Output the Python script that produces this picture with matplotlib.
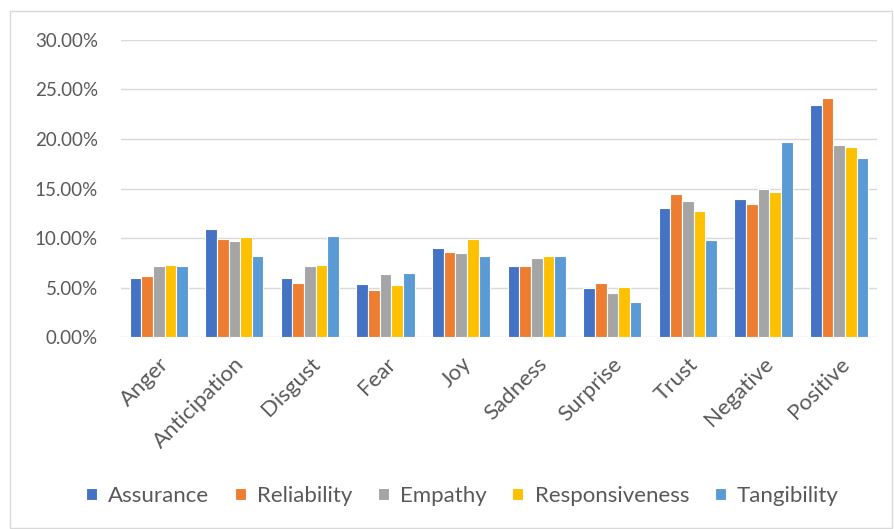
import matplotlib

matplotlib.use("Agg")
import matplotlib.pyplot as plt
import numpy as np
from matplotlib.patches import Rectangle
from matplotlib.ticker import PercentFormatter

categories = ["Anger", "Anticipation", "Disgust", "Fear", "Joy", "Sadness",
              "Surprise", "Trust", "Negative", "Positive"]
series_names = ["Assurance", "Reliability", "Empathy", "Responsiveness", "Tangibility"]

assurance = [6.0, 10.9, 6.0, 5.4, 9.0, 7.2, 5.0, 13.0, 13.9, 23.4]
reliability = [6.2, 9.9, 5.5, 4.8, 8.6, 7.2, 5.5, 14.4, 13.4, 24.1]
empathy = [7.2, 9.7, 7.2, 6.4, 8.5, 8.0, 4.4, 13.7, 14.9, 19.4]
responsiveness = [7.3, 10.1, 7.3, 5.3, 9.9, 8.2, 5.1, 12.7, 14.6, 19.2]
tangibility = [7.2, 8.2, 10.2, 6.5, 8.2, 8.2, 3.5, 9.8, 19.7, 18.1]

colors = ["#4472C4", "#ED7D31", "#A5A5A5", "#FFC000", "#5B9BD5"]

plt.rcParams["font.family"] = ["Lato", "DejaVu Sans"]
text_color = "#595959"

fig = plt.figure(figsize=(8.94, 5.29), dpi=100)
ax = fig.add_axes([0.1353, 0.3629, 0.8456, 0.5615])

x = np.arange(len(categories))
all_series = [assurance, reliability, empathy, responsiveness, tangibility]
step = 0.154
for i, (name, vals, col) in enumerate(zip(series_names, all_series, colors)):
    ax.bar(x + (i - 2) * step, np.array(vals) / 100, width=step,
           color=col, edgecolor="white", linewidth=0.8, label=name, zorder=3)

ax.set_xlim(-0.5, len(categories) - 0.5)
ax.set_ylim(0, 0.30)
ax.set_yticks(np.arange(0, 0.301, 0.05))
ax.yaxis.set_major_formatter(PercentFormatter(1.0, decimals=2))
ax.grid(axis="y", color="#D9D9D9", linewidth=1, zorder=0)
for s in ax.spines.values():
    s.set_visible(False)
ax.tick_params(axis="y", length=0, labelsize=13.5, colors=text_color, pad=16.5)
ax.set_xticks(x)
ax.set_xticklabels(categories, rotation=45, ha="right", rotation_mode="anchor")
ax.tick_params(axis="x", length=0, labelsize=16, colors=text_color, pad=12)

fig.legend(loc="center", bbox_to_anchor=(0.517, 1 - 496 / 529), ncol=5,
           frameon=False, fontsize=16, labelcolor=text_color,
           handlelength=0.5, handleheight=0.5, handletextpad=0.5,
           columnspacing=1.15)

fig.patches.append(Rectangle((0.011, 0.002), 0.987, 0.978, transform=fig.transFigure,
                             fill=False, edgecolor="#D9D9D9", linewidth=1))

fig.savefig("out.png")
